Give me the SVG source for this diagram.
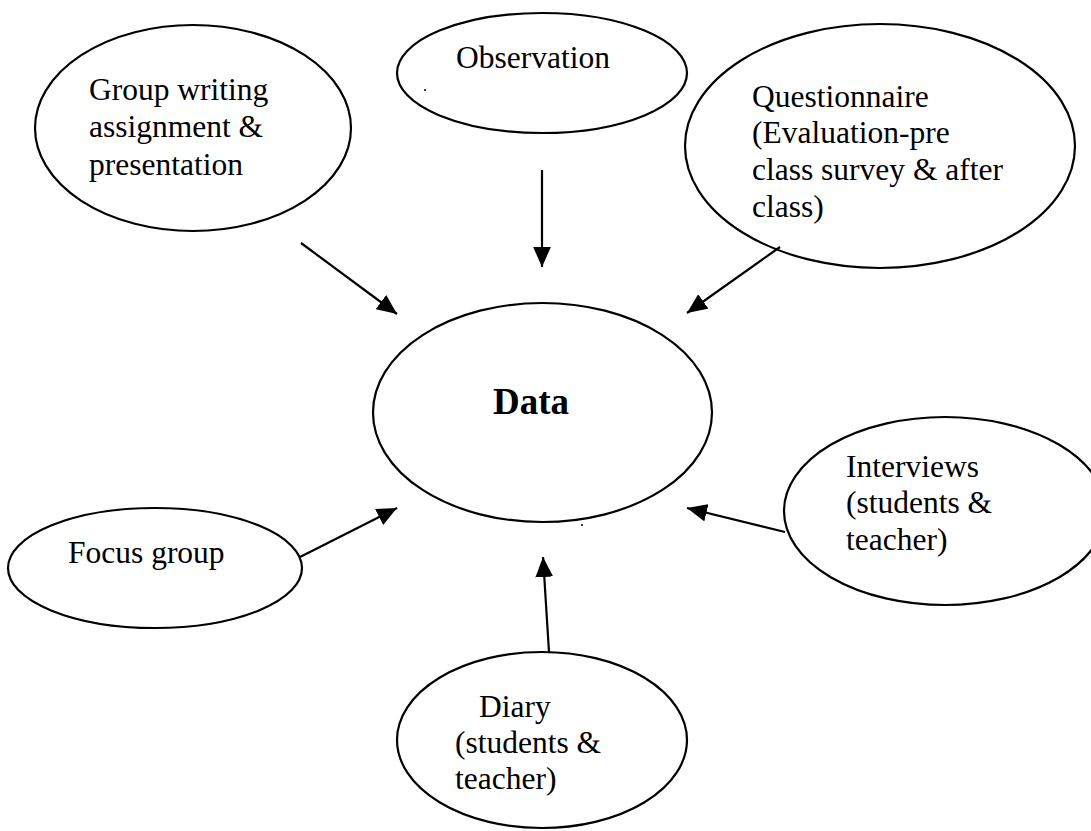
<svg xmlns="http://www.w3.org/2000/svg" width="1091" height="831" viewBox="0 0 1091 831">
<style>
.node ellipse{fill:none;stroke:#000;stroke-width:2.2}
.node text{font-family:"Liberation Serif","Times New Roman",serif;font-size:31.5px;fill:#000}
.node text.bold{font-weight:bold;font-size:37px}
#connectors line{stroke:#000;stroke-width:2.2}
</style>
<defs>
<marker id="arrow" markerUnits="userSpaceOnUse" markerWidth="20" markerHeight="18" viewBox="0 0 18 16" refX="18" refY="8" orient="auto">
<path d="M0,0 L18,8 L0,16 Z" fill="#000"/>
</marker>
</defs>
<rect width="1091" height="831" fill="#fff"/>
<g id="node-group-writing" class="node">
<ellipse cx="193" cy="128" rx="158" ry="103"/>
<text x="89" y="100">Group writing</text>
<text x="89" y="137">assignment &amp;</text>
<text x="89" y="175">presentation</text>
</g>
<g id="node-observation" class="node">
<ellipse cx="542" cy="73" rx="145" ry="60"/>
<text x="456" y="68">Observation</text>
<circle cx="425" cy="90" r="1" fill="#000"/>
</g>
<g id="node-questionnaire" class="node">
<ellipse cx="880" cy="146" rx="195" ry="122"/>
<text x="752" y="107">Questionnaire</text>
<text x="752" y="143">(Evaluation-pre</text>
<text x="752" y="180">class survey &amp; after</text>
<text x="752" y="217">class)</text>
</g>
<g id="node-data" class="node">
<ellipse cx="542.5" cy="412.5" rx="169.5" ry="109.5"/>
<text class="bold" x="493" y="414">Data</text>
<circle cx="582" cy="525" r="1" fill="#000"/>
</g>
<g id="node-focus-group" class="node">
<ellipse cx="155" cy="568" rx="147" ry="60"/>
<text x="68" y="563">Focus group</text>
</g>
<g id="node-interviews" class="node">
<ellipse cx="945" cy="511" rx="161" ry="94"/>
<text x="846" y="477">Interviews</text>
<text x="846" y="513">(students &amp;</text>
<text x="846" y="550">teacher)</text>
</g>
<g id="node-diary" class="node">
<ellipse cx="542" cy="740" rx="145" ry="88"/>
<text x="479" y="717">Diary</text>
<text x="455" y="753">(students &amp;</text>
<text x="455" y="789">teacher)</text>
</g>
<g id="connectors">
<line x1="301" y1="243" x2="397" y2="314" marker-end="url(#arrow)"/>
<line x1="542" y1="170" x2="542" y2="267" marker-end="url(#arrow)"/>
<line x1="780" y1="247" x2="687" y2="313" marker-end="url(#arrow)"/>
<line x1="300" y1="557" x2="397" y2="508" marker-end="url(#arrow)"/>
<line x1="785" y1="532" x2="687" y2="508" marker-end="url(#arrow)"/>
<line x1="549" y1="652" x2="543" y2="557" marker-end="url(#arrow)"/>
</g>
</svg>
